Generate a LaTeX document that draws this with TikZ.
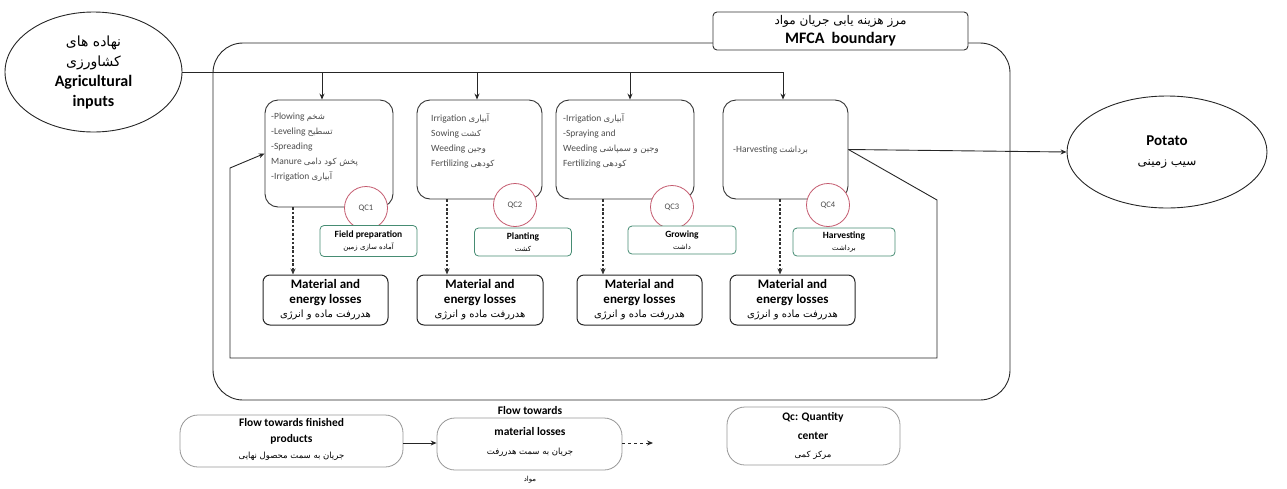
\documentclass[tikz,border=0pt]{standalone}
\usepackage{fontspec}
\setmainfont{Carlito}
\newfontfamily\fa[Script=Arabic]{DejaVu Sans}
\TeXXeTstate=1
\newcommand{\FA}[1]{{\mdseries\fa\beginR #1\endR}}
\newcommand{\fs}[2]{\fontsize{#1}{#2}\selectfont}
\usetikzlibrary{arrows.meta,shapes.geometric}
\definecolor{qcred}{RGB}{196,90,110}
\definecolor{stgreen}{RGB}{70,140,115}
\definecolor{lgrey}{RGB}{150,150,150}
\begin{document}
\begin{tikzpicture}[x=1pt,y=-1pt,
  every node/.style={align=center, inner sep=0pt},
  ln/.style={draw=black!85, line width=0.9pt},
  arr/.style={-{Stealth[length=6pt,width=5pt]}},
  dsh/.style={draw=black!80, line width=1.3pt, dash pattern=on 2.5pt off 1.8pt},
  proc/.style={draw=black!80, line width=0.9pt, rounded corners=13pt},
  ptext/.style={font=\fs{9.5}{15}, align=left, text=black!70, anchor=north west},
  qc/.style={circle, draw=qcred, line width=0.8pt, fill=white, minimum size=43pt, font=\fs{8.5}{9}, text=black!70},
  stage/.style={draw=stgreen, line width=0.8pt, rounded corners=4pt, fill=white, font=\bfseries\fs{9.5}{12.5}},
  loss/.style={draw=black!85, line width=1pt, rounded corners=7pt, font=\bfseries\fs{13}{14.5}},
  leg/.style={draw=lgrey, line width=0.8pt, rounded corners=18pt},
]
\useasboundingbox (0,0) rectangle (1287,488);

% MFCA boundary
\draw[ln, rounded corners=30pt] (213,43) rectangle (1010,400);
\node[draw=black!80, line width=0.9pt, rounded corners=4pt, fill=white, minimum width=255pt, minimum height=38pt,
  font=\bfseries\fs{16}{19}] (mfca) at (840.5,31) {\fs{12}{19}\FA{مرز هزینه یابی جریان مواد}\\MFCA\ \ boundary};

% inputs
\node[ellipse, draw=black!85, line width=0.9pt, fill=white, minimum width=177pt, minimum height=120pt,
  font=\bfseries\fs{16}{20}] (in) at (93.5,72)
  {\fs{14}{20}\FA{نهاده های}\\\fs{14}{20}\FA{کشاورزی}\\Agricultural\\inputs};

% process boxes
\node[proc, minimum width=128pt, minimum height=107pt] (p1) at (329,153.5) {};
\node[proc, minimum width=125pt, minimum height=99pt] (p2) at (479.5,149.5) {};
\node[proc, minimum width=138pt, minimum height=99pt] (p3) at (625,149.5) {};
\node[proc, minimum width=125pt, minimum height=99pt] (p4) at (785.5,149.5) {};

\node[ptext] (t1) at (271,113) {-Plowing \FA{\fs{8.5}{15}شخم}\\-Leveling \FA{\fs{8.5}{15}تسطیح}\\-Spreading\\Manure \FA{\fs{8.5}{15}پخش کود دامی}\\-Irrigation \FA{\fs{8.5}{15}آبیاری}};
\node[ptext] (t2) at (431,113) {Irrigation \FA{\fs{8.5}{15}آبیاری}\\Sowing \FA{\fs{8.5}{15}کشت}\\Weeding \FA{\fs{8.5}{15}وجین}\\Fertilizing \FA{\fs{8.5}{15}کودهی}};
\node[ptext] (t3) at (563,113) {-Irrigation \FA{\fs{8.5}{15}آبیاری}\\-Spraying and\\Weeding \FA{\fs{8.5}{15}وجین و سمپاشی}\\Fertilizing \FA{\fs{8.5}{15}کودهی}};
\node[ptext, anchor=west] (t4) at (733,150) {-Harvesting \FA{\fs{8.5}{15}برداشت}};

% QC circles
\node[qc] (q1) at (366,208) {QC1};
\node[qc] (q2) at (515,205) {QC2};
\node[qc] (q3) at (672,207) {QC3};
\node[qc] (q4) at (828,205) {QC4};

% stage labels
\node[stage, minimum width=97pt, minimum height=31pt] (s1) at (368.5,241) {Field preparation\\\fs{7}{12.5}\FA{آماده سازی زمین}};
\node[stage, minimum width=97pt, minimum height=28pt] (s2) at (523,242) {Planting\\\fs{7}{12.5}\FA{کشت}};
\node[stage, minimum width=108pt, minimum height=28pt] (s3) at (682,240) {Growing\\\fs{7}{12.5}\FA{داشت}};
\node[stage, minimum width=102pt, minimum height=28pt] (s4) at (844,242) {Harvesting\\\fs{7}{12.5}\FA{برداشت}};

% loss boxes
\node[loss, minimum width=125pt, minimum height=50pt] (l1) at (325.5,300) {Material and\\energy losses\\\fs{10}{14.5}\FA{هدررفت ماده و انرژی}};
\node[loss, minimum width=126pt, minimum height=50pt] (l2) at (480,300) {Material and\\energy losses\\\fs{10}{14.5}\FA{هدررفت ماده و انرژی}};
\node[loss, minimum width=125pt, minimum height=50pt] (l3) at (639.5,300) {Material and\\energy losses\\\fs{10}{14.5}\FA{هدررفت ماده و انرژی}};
\node[loss, minimum width=125pt, minimum height=50pt] (l4) at (792.5,300) {Material and\\energy losses\\\fs{10}{14.5}\FA{هدررفت ماده و انرژی}};

% potato
\node[ellipse, draw=black!85, line width=0.9pt, minimum width=200pt, minimum height=112pt,
  font=\bfseries\fs{15}{20}] (pot) at (1167,152) {Potato\\\fs{12}{20}\FA{سیب زمینی}};

% input distribution
\coordinate (j1) at (322,72);
\coordinate (j2) at (477,72);
\coordinate (j3) at (630,72);
\coordinate (j4) at (783,72);
\draw[ln] (in.east) -- (j4);
\draw[ln,arr] (j1) -- (j1 |- p1.north);
\draw[ln,arr] (j2) -- (j2 |- p2.north);
\draw[ln,arr] (j3) -- (j3 |- p3.north);
\draw[ln,arr] (j4) -- (j4 |- p4.north);

% losses
\coordinate (d1) at (293,0);
\coordinate (d2) at (447,0);
\coordinate (d3) at (603,0);
\coordinate (d4) at (780,0);
\draw[dsh,arr] (d1 |- p1.south) -- (d1 |- l1.north);
\draw[dsh,arr] (d2 |- p2.south) -- (d2 |- l2.north);
\draw[dsh,arr] (d3 |- p3.south) -- (d3 |- l3.north);
\draw[dsh,arr] (d4 |- p4.south) -- (d4 |- l4.north);

% output and feedback
\coordinate (fa) at (937,200);
\coordinate (fb) at (937,358);
\coordinate (fc) at (230,358);
\coordinate (fd) at (230,168);
\draw[ln,arr] (p4.east) -- (pot.west);
\draw[ln,arr] (p4.east) -- (fa) -- (fb) -- (fc) -- (fd) -- (p1.west);

% legend
\node[leg, minimum width=223pt, minimum height=52pt] (g1) at (291.5,441) {};
\node[font=\bfseries\fs{11.5}{16}] (g1t) at (291.5,439) {Flow towards finished\\products\\\fs{8.5}{16}\FA{جریان به سمت محصول نهایی}};
\node[leg, minimum width=185pt, minimum height=52pt] (g2) at (529.5,444) {};
\node[font=\bfseries\fs{11.5}{13}] (g2a) at (530,410) {Flow towards};
\node[font=\bfseries\fs{11.5}{13}] (g2b) at (530,431) {material losses};
\node[font=\fs{8.5}{11}] (g2c) at (530,452) {\FA{جریان به سمت هدررفت}};
\node[font=\fs{7}{9}] (g2d) at (530,480) {\FA{مواد}};
\node[leg, minimum width=173pt, minimum height=58pt] (g3) at (813.5,436) {};
\node[font=\bfseries\fs{11.5}{18.5}] (g3t) at (813,436) {Qc: Quantity\\center\\\fs{8.5}{18.5}\FA{مرکز کمی}};
\draw[ln,arr] (g1.east |- 0,443) -- (g2.west |- 0,443);
\coordinate (ge) at (653,443);
\draw[ln,dashed,arr] (g2.east |- 0,443) -- (ge);
\end{tikzpicture}
\end{document}
